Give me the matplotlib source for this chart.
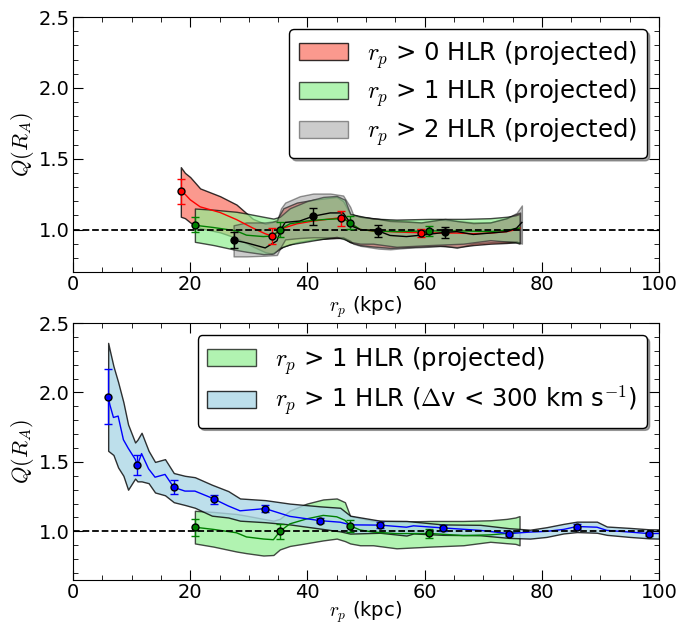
import matplotlib
matplotlib.use('Agg')
import matplotlib.pyplot as plt
from matplotlib.ticker import MultipleLocator

plt.rcParams['mathtext.fontset'] = 'cm'
plt.rcParams['font.family'] = 'DejaVu Sans'
plt.rcParams['xtick.direction'] = 'in'
plt.rcParams['ytick.direction'] = 'in'
plt.rcParams['xtick.top'] = True
plt.rcParams['ytick.right'] = True

# ---- painel de cima: amostras projetadas ----
# r_p > 0 HLR
r0_x = [18.4, 19.1, 20.0, 21.7, 25.1, 27.9, 30.7, 32.8, 33.9, 34.8, 35.9, 38.2, 41.0, 45.0,
        46.1, 47.3, 49.0, 51.2, 54.1, 56.9, 59.4, 62.6, 65.5, 68.3, 71.2, 74.0, 75.7, 76.3]
r0_mid = [1.27, 1.25, 1.21, 1.16, 1.12, 1.07, 1.01, 0.97, 0.955, 0.98, 1.01, 1.04, 1.06, 1.08,
          1.085, 1.04, 1.00, 0.99, 0.985, 0.98, 0.977, 0.975, 0.975, 0.97, 0.975, 0.985, 1.00, 1.01]
r0_hi = [1.44, 1.40, 1.37, 1.29, 1.235, 1.176, 1.075, 1.04, 1.05, 1.07, 1.15, 1.19, 1.21, 1.23,
         1.20, 1.11, 1.09, 1.08, 1.065, 1.06, 1.05, 1.07, 1.06, 1.05, 1.05, 1.08, 1.11, 1.12]
r0_lo = [1.09, 1.08, 1.05, 1.01, 0.98, 0.94, 0.88, 0.84, 0.83, 0.85, 0.88, 0.91, 0.93, 0.94,
         0.94, 0.91, 0.89, 0.88, 0.87, 0.875, 0.88, 0.885, 0.875, 0.89, 0.90, 0.905, 0.91, 0.91]
r0_px = [18.4, 33.9, 45.7, 59.4]
r0_py = [1.27, 0.955, 1.08, 0.977]
r0_pe = [0.087, 0.055, 0.054, 0.03]

# r_p > 1 HLR
r1_x = [20.8, 24.0, 27.9, 29.6, 32.5, 34.2, 35.3, 37.0, 39.9, 42.7, 45.0, 46.4, 47.3, 49.0,
        51.2, 55.2, 60.9, 66.6, 71.2, 74.0, 75.5, 76.2]
r1_mid = [1.03, 1.014, 0.99, 0.96, 0.95, 0.955, 1.0, 1.04, 1.06, 1.07, 1.075, 1.07, 1.047, 1.0,
          0.99, 0.985, 0.99, 0.99, 0.985, 0.995, 1.005, 1.01]
r1_hi = [1.148, 1.14, 1.125, 1.113, 1.09, 1.077, 1.09, 1.15, 1.2, 1.23, 1.237, 1.21, 1.11, 1.095,
         1.077, 1.07, 1.075, 1.075, 1.08, 1.09, 1.10, 1.11]
r1_lo = [0.913, 0.89, 0.855, 0.843, 0.826, 0.83, 0.87, 0.895, 0.915, 0.935, 0.948, 0.93, 0.913, 0.90,
         0.90, 0.878, 0.89, 0.90, 0.925, 0.915, 0.91, 0.90]
r1_px = [20.8, 35.3, 47.2, 60.7]
r1_py = [1.035, 1.0, 1.047, 0.99]
r1_pe = [0.055, 0.055, 0.045, 0.033]

# r_p > 2 HLR
r2_x = [27.4, 29.6, 32.8, 34.8, 35.5, 36.2, 38.7, 41.0, 43.9, 46.1, 47.3, 47.8, 49.0, 52.1,
        54.1, 56.9, 59.4, 63.5, 65.5, 68.3, 71.2, 74.0, 75.7, 76.6]
r2_mid = [0.925, 0.906, 0.87, 0.92, 1.0, 1.05, 1.06, 1.094, 1.117, 1.117, 1.047, 1.02, 1.0, 0.99,
          0.958, 0.95, 0.96, 0.98, 0.985, 0.965, 0.975, 0.985, 1.01, 1.05]
r2_hi = [1.03, 1.05, 1.05, 1.06, 1.15, 1.19, 1.235, 1.254, 1.254, 1.24, 1.16, 1.105, 1.09, 1.075,
         1.06, 1.055, 1.05, 1.075, 1.06, 1.045, 1.05, 1.08, 1.117, 1.17]
r2_lo = [0.81, 0.81, 0.815, 0.82, 0.88, 0.93, 0.94, 0.945, 0.944, 0.944, 0.92, 0.90, 0.885, 0.865,
         0.86, 0.87, 0.875, 0.885, 0.87, 0.90, 0.91, 0.915, 0.915, 0.90]
r2_px = [27.4, 41.0, 52.1, 63.5]
r2_py = [0.925, 1.094, 0.99, 0.98]
r2_pe = [0.059, 0.061, 0.043, 0.04]

# ---- painel de baixo ----
# r_p > 1 HLR (projetado), leitura do painel de baixo
g_x = [20.8, 24.0, 27.9, 29.6, 32.5, 34.2, 35.3, 37.0, 39.9, 42.7, 45.0, 46.4, 47.3, 49.0,
       51.2, 55.2, 60.9, 66.6, 71.2, 74.0, 75.5, 76.2]
g_mid = [1.03, 1.014, 0.99, 0.96, 0.945, 0.94, 1.0, 1.054, 1.09, 1.115, 1.105, 1.08, 1.04, 1.01,
         0.995, 0.984, 0.985, 0.97, 0.975, 0.985, 0.995, 1.0]
g_hi = r1_hi
g_lo = r1_lo
g_px = [20.8, 35.3, 47.2, 60.8]
g_py = [1.03, 1.0, 1.04, 0.985]
g_pe = [0.06, 0.055, 0.045, 0.035]

# r_p > 1 HLR (delta v < 300 km/s)
b_x = [6.0, 6.3, 6.9, 7.7, 8.6, 9.4, 10.6, 11.0, 11.7, 12.9, 14.0, 15.7, 17.2, 19.1, 20.8, 23.7,
       26.5, 28.5, 32.8, 37.0, 42.2, 45.6, 47.3, 52.4, 56.9, 58.1, 63.1, 69.5, 74.4, 78.0, 80.8,
       83.7, 86.0, 89.4, 91.1, 95.0, 98.3, 100.0]
b_mid = [1.97, 1.91, 1.82, 1.83, 1.66, 1.60, 1.52, 1.477, 1.56, 1.45, 1.39, 1.41, 1.317, 1.29,
         1.29, 1.24, 1.183, 1.148, 1.164, 1.108, 1.077, 1.066, 1.047, 1.045, 1.03, 1.04, 1.025,
         1.007, 0.984, 0.995, 1.0, 1.014, 1.035, 1.03, 1.007, 0.995, 0.984, 0.985]
b_hi = [2.357, 2.30, 2.19, 2.075, 1.93, 1.77, 1.64, 1.66, 1.71, 1.58, 1.50, 1.52, 1.42, 1.40,
        1.39, 1.336, 1.29, 1.237, 1.225, 1.20, 1.18, 1.17, 1.113, 1.077, 1.075, 1.07, 1.05,
        1.047, 1.023, 1.012, 1.03, 1.054, 1.07, 1.07, 1.035, 1.025, 1.015, 1.014]
b_lo = [1.58, 1.57, 1.55, 1.46, 1.40, 1.30, 1.38, 1.36, 1.36, 1.347, 1.28, 1.26, 1.21, 1.19,
        1.17, 1.113, 1.10, 1.077, 1.066, 1.05, 1.02, 1.0, 0.984, 0.99, 0.97, 0.985, 0.975,
        0.972, 0.953, 0.948, 0.96, 0.985, 0.995, 0.99, 0.975, 0.96, 0.95, 0.948]
b_px = [6.03, 11.0, 17.2, 24.1, 32.8, 42.2, 52.4, 63.1, 74.4, 86.0, 98.3]
b_py = [1.97, 1.477, 1.317, 1.23, 1.164, 1.077, 1.045, 1.025, 0.984, 1.035, 0.984]
b_pe = [0.197, 0.07, 0.05, 0.035, 0.025, 0.02, 0.02, 0.02, 0.015, 0.015, 0.015]


def faixa(ax, x, lo, hi, mid, cor_fill, alpha, cor_linha, rotulo):
    ax.fill_between(x, lo, hi, facecolor=cor_fill, edgecolor='k', alpha=alpha, lw=1, label=rotulo)
    ax.plot(x, mid, color=cor_linha, lw=1)


def pontos(ax, x, y, e, cor):
    ax.errorbar(x, y, yerr=e, fmt='o', color=cor, mec='k', ms=5, capsize=3,
                elinewidth=1, capthick=1, zorder=5)


def formatar(ax, ymin, pad_x):
    ax.axhline(1.0, color='k', ls='--', lw=1.3, zorder=4)
    ax.set_xlim(0, 100)
    ax.set_ylim(ymin, 2.5)
    ax.xaxis.set_major_locator(MultipleLocator(20))
    ax.xaxis.set_minor_locator(MultipleLocator(5))
    ax.yaxis.set_major_locator(MultipleLocator(0.5))
    ax.yaxis.set_minor_locator(MultipleLocator(0.1))
    ax.tick_params(which='major', length=7, labelsize=14, pad=2.5)
    ax.tick_params(which='minor', length=3.5)
    ax.set_xlabel(r'$r_p$ (kpc)', fontsize=14, labelpad=pad_x)
    ax.set_ylabel(r'$Q(R_A)$', fontsize=16, labelpad=2)
    leg = ax.legend(loc='upper right', fontsize=17.5, fancybox=True, shadow=True, framealpha=1,
                    labelspacing=0.3)
    leg.get_frame().set_edgecolor('k')


fig = plt.figure(figsize=(6.9, 6.26), dpi=100)
ax1 = fig.add_axes([0.1058, 0.5655, 0.8493, 0.4073])
ax2 = fig.add_axes([0.1058, 0.0735, 0.8493, 0.4105])

faixa(ax1, r0_x, r0_lo, r0_hi, r0_mid, 'salmon', 0.8, 'r', r'$r_p$ > 0 HLR (projected)')
faixa(ax1, r1_x, r1_lo, r1_hi, r1_mid, 'lightgreen', 0.7, 'g', r'$r_p$ > 1 HLR (projected)')
faixa(ax1, r2_x, r2_lo, r2_hi, r2_mid, 'grey', 0.4, 'k', r'$r_p$ > 2 HLR (projected)')
pontos(ax1, r0_px, r0_py, r0_pe, 'r')
pontos(ax1, r1_px, r1_py, r1_pe, 'g')
pontos(ax1, r2_px, r2_py, r2_pe, 'k')
formatar(ax1, 0.7, 0)

faixa(ax2, g_x, g_lo, g_hi, g_mid, 'lightgreen', 0.7, 'g', r'$r_p$ > 1 HLR (projected)')
faixa(ax2, b_x, b_lo, b_hi, b_mid, 'lightblue', 0.8, 'b',
      r'$r_p$ > 1 HLR ($\Delta$v < 300 km s$^{-1}$)')
pontos(ax2, g_px, g_py, g_pe, 'g')
pontos(ax2, b_px, b_py, b_pe, 'b')
formatar(ax2, 0.65, -2)

fig.savefig('out.png', dpi=100)
